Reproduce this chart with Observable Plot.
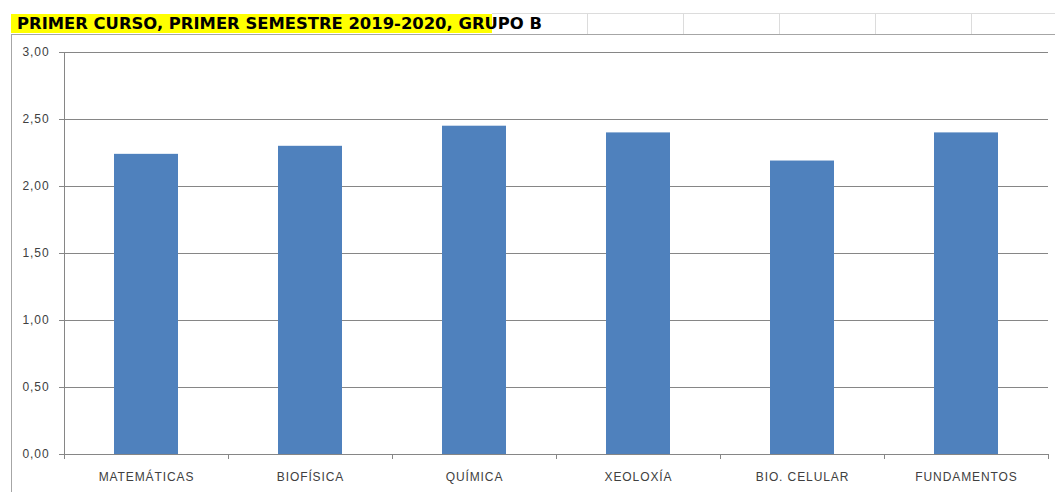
<!DOCTYPE html>
<html><head><meta charset="utf-8">
<script src="https://cdn.jsdelivr.net/npm/d3@7"></script>
<script src="https://cdn.jsdelivr.net/npm/@observablehq/plot@0.6"></script>
<style>
body{margin:0;background:#fff;width:1055px;height:492px;overflow:hidden;font-family:"Liberation Sans",Arial,sans-serif;}
#wrap{position:relative;width:1055px;height:492px;}
#head{position:relative;height:35px;}
#yellow{position:absolute;left:11px;top:14px;width:481px;height:19px;background:#ffff00;}
#title{position:absolute;left:17px;top:14px;height:19px;line-height:20px;font-family:"DejaVu Sans",sans-serif;font-weight:bold;font-size:15px;color:#000;white-space:nowrap;transform-origin:0 50%;}
.hl{position:absolute;height:1px;background:#dcdcdc;}
.vl{position:absolute;width:1px;background:#dcdcdc;}
#border-top{position:absolute;left:11px;top:34px;width:1044px;height:1px;background:#a6a6a6;}
#chart{position:relative;height:457px;}
#border-left{position:absolute;left:11px;top:0;width:1px;height:457px;background:#a6a6a6;}
#chart svg{position:absolute;left:0;top:0;}
</style></head>
<body>
<div id="wrap">
  <div id="head">
    <div class="hl" style="left:492px;top:13px;width:563px"></div>
    <div class="vl" style="left:587px;top:13px;height:21px"></div>
    <div class="vl" style="left:683px;top:13px;height:21px"></div>
    <div class="vl" style="left:779px;top:13px;height:21px"></div>
    <div class="vl" style="left:875px;top:13px;height:21px"></div>
    <div class="vl" style="left:971px;top:13px;height:21px"></div>
    <div id="yellow"></div>
    <span id="title">PRIMER CURSO, PRIMER SEMESTRE 2019-2020, GRUPO B</span>
    <div id="border-top"></div>
  </div>
  <div id="chart"><div id="border-left"></div></div>
</div>
<script>
const categories = ["MATEMÁTICAS","BIOFÍSICA","QUÍMICA","XEOLOXÍA","BIO. CELULAR","FUNDAMENTOS"];
const values = [2.24, 2.30, 2.45, 2.40, 2.19, 2.40];
const yTicks = [0, 0.5, 1, 1.5, 2, 2.5, 3];
const yTickLabels = ["0,00","0,50","1,00","1,50","2,00","2,50","3,00"];

const data = categories.map((c, i) => ({category: c, value: values[i]}));

const W = 1055, H = 457, mL = 64, mR = 7, mT = 17, mB = 38;
const step = (W - mL - mR) / categories.length;
const gridColor = "#868686";

const chart = Plot.plot({
  width: W, height: H,
  marginLeft: mL, marginRight: mR, marginTop: mT, marginBottom: mB,
  style: {fontFamily: "'Liberation Sans', Arial, sans-serif", fontSize: "12px", color: "#404040", background: "transparent", letterSpacing: "0.9px"},
  x: {domain: categories, paddingInner: 0.61, paddingOuter: 0.305, axis: null},
  y: {domain: [0, 3], axis: null},
  marks: [
    Plot.ruleY(yTicks, {stroke: gridColor, strokeWidth: 1}),
    Plot.barY(data, {x: "category", y: "value", fill: "#4F81BD"}),
    Plot.ruleX([categories[0]], {y1: 0, y2: 3, dx: -step / 2, stroke: gridColor}),
    Plot.ruleX(categories, {y1: 0, y2: 0, insetBottom: -5, dx: -step / 2, stroke: gridColor}),
    Plot.ruleX([categories[categories.length - 1]], {y1: 0, y2: 0, insetBottom: -5, dx: step / 2, stroke: gridColor}),
    Plot.axisY({ticks: yTicks, tickFormat: d => yTickLabels[yTicks.indexOf(d)], tickSize: 5, tickPadding: 10, stroke: gridColor, fill: "#404040", label: null}),
    Plot.axisX({tickSize: 0, tickPadding: 18, fill: "#404040", label: null})
  ]
});
document.getElementById("chart").appendChild(chart);

const t = document.getElementById("title");
const w = t.getBoundingClientRect().width;
t.style.transform = `scaleX(${525 / w})`;
</script>
</body></html>
